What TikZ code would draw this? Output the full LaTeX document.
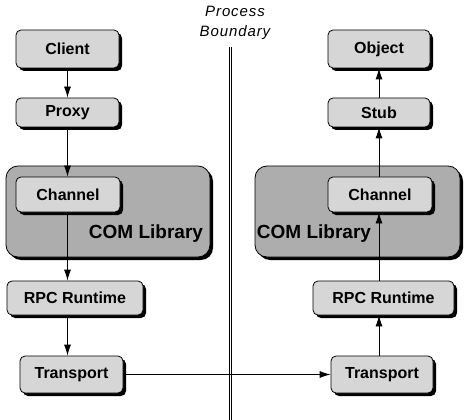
\documentclass[tikz,border=0pt]{standalone}
\usepackage{fontspec}
\usepackage{tikz}
\usetikzlibrary{arrows.meta,shadows}
\newfontfamily\labelfont{Liberation Sans}
\newfontfamily\boundfont[LetterSpace=6]{Liberation Sans}
\definecolor{boxgray}{gray}{0.84}
\definecolor{libgray}{gray}{0.68}
\tikzset{
	box/.style={draw, rounded corners=5pt, fill=boxgray, line width=0.8pt,
		font=\labelfont\bfseries\fontsize{16}{18}\selectfont, inner sep=0pt,
		drop shadow={shadow xshift=3pt, shadow yshift=-3pt, fill=black, opacity=1}},
	libbox/.style={box, rounded corners=12pt, fill=libgray},
	flow/.style={line width=0.8pt, -{Latex[length=11pt,width=7pt]}}
}

\begin{document}
\begin{tikzpicture}[x=1pt, y=-1pt]
			%%%%% START %%%%%
			\useasboundingbox (0, 0) rectangle (472, 420);
			
			\node[libbox, minimum width=204, minimum height=91] (libL) at (108, 211.5) {};
			\node[libbox, minimum width=205, minimum height=91] (libR) at (357.5, 211.5) {};
			\node[font=\labelfont\bfseries\fontsize{19}{22}\selectfont] (libLtext) at (146, 234) {COM Library};
			\node[font=\labelfont\bfseries\fontsize{19}{22}\selectfont] (libRtext) at (314, 234) {COM Library};
			
			\node[box, minimum width=103, minimum height=38] (client) at (67.5, 49) {Client};
			\node[box, minimum width=103, minimum height=29] (proxy) at (67.5, 112.5) {Proxy};
			\node[box, minimum width=104, minimum height=35] (chanL) at (68, 194.5) {Channel};
			\node[box, minimum width=136, minimum height=34] (rpcL) at (75, 298) {RPC Runtime};
			\node[box, minimum width=103, minimum height=37] (trL) at (71.5, 374.5) {Transport};
			
			\node[box, minimum width=102, minimum height=38] (object) at (379, 49) {Object};
			\node[box, minimum width=102, minimum height=29] (stub) at (379, 112.5) {Stub};
			\node[box, minimum width=104, minimum height=35] (chanR) at (380, 194.5) {Channel};
			\node[box, minimum width=141, minimum height=34] (rpcR) at (383.5, 298) {RPC Runtime};
			\node[box, minimum width=102, minimum height=37] (trR) at (382, 374.5) {Transport};
			
			% process boundary
			\node[font=\boundfont\itshape\fontsize{15}{20}\selectfont, align=center] (bound) at (235, 23) {Process\\Boundary};
			\coordinate (btop) at (230.5, 47);
			\coordinate (bbot) at (230.5, 420);
			\draw[double, double distance=1.6pt, line width=0.7pt] (btop) -- (bbot);
			
			% client side
			\draw[flow] (client) -- (proxy);
			\draw[flow] (proxy.south -| client) -- (chanL.north -| client);
			\draw[flow] (chanL.south -| client) -- (rpcL.north -| client);
			\draw[flow] (rpcL.south -| client) -- (trL.north -| client);
			
			% wire
			\draw[flow] (trL) -- (trR);
			
			% server side
			\draw[flow] (trR.north -| stub) -- (rpcR.south -| stub);
			\draw[flow] (rpcR.north -| stub) -- (chanR.south -| stub);
			\draw[flow] (chanR.north -| stub) -- (stub.south);
			\draw[flow] (stub) -- (object);
			
			%%%%% END %%%%%
\end{tikzpicture}
\end{document}
